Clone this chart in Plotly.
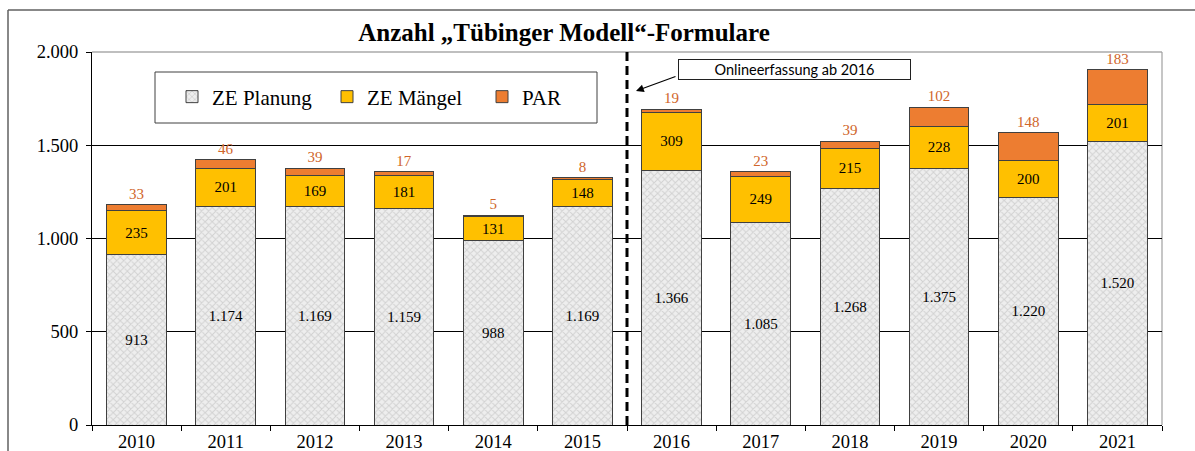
import plotly.graph_objects as go

years = ["2010", "2011", "2012", "2013", "2014", "2015", "2016", "2017", "2018", "2019", "2020", "2021"]
ze_planung = [913, 1174, 1169, 1159, 988, 1169, 1366, 1085, 1268, 1375, 1220, 1520]
ze_maengel = [235, 201, 169, 181, 131, 148, 309, 249, 215, 228, 200, 201]
par = [33, 46, 39, 17, 5, 8, 19, 23, 39, 102, 148, 183]
y_ticks = [0, 500, 1000, 1500, 2000]

SERIF = "Liberation Serif, Times New Roman, serif"
W, H = 1195, 451
L, R, T, B = 92, 1162, 52, 425
pw, ph = R - L, B - T

def px(x):
    return (x - L) / pw

def py(y):
    return (B - y) / ph

fig = go.Figure()
fig.add_trace(go.Bar(
    x=years, y=ze_planung, name="ZE Planung",
    marker=dict(color="#e0e0e0", line=dict(color="#404040", width=1),
                pattern=dict(shape="x", fgcolor="#b4b4b4", bgcolor="#eeeeee", size=5, solidity=0.35)),
    texttemplate="%{y:,d}", textposition="inside", insidetextanchor="middle",
    textfont=dict(family=SERIF, size=15, color="black"), textangle=0,
))
fig.add_trace(go.Bar(
    x=years, y=ze_maengel, name="ZE Mängel",
    marker=dict(color="#FFC000", line=dict(color="#404040", width=1)),
    texttemplate="%{y:,d}", textposition="inside", insidetextanchor="middle",
    textfont=dict(family=SERIF, size=15, color="black"), textangle=0,
))
fig.add_trace(go.Bar(
    x=years, y=par, name="PAR",
    marker=dict(color="#ED7D31", line=dict(color="#404040", width=1)),
    texttemplate="%{y:,d}", textposition="outside",
    textfont=dict(family=SERIF, size=15, color="#D0652A"), textangle=0,
    cliponaxis=False,
))

shapes = [
    # outer frame
    dict(type="line", xref="paper", yref="paper", x0=px(8), x1=px(1300), y0=py(10), y1=py(10),
         line=dict(color="#606060", width=1.5)),
    dict(type="line", xref="paper", yref="paper", x0=px(8), x1=px(8), y0=py(10), y1=py(600),
         line=dict(color="#606060", width=1.5)),
    # plot area top / right border
    dict(type="line", xref="paper", yref="paper", x0=0, x1=1, y0=1, y1=1,
         line=dict(color="#808080", width=1.2), layer="below"),
    dict(type="line", xref="paper", yref="paper", x0=1, x1=1, y0=0, y1=1,
         line=dict(color="#a0a0a0", width=1.2), layer="below"),
    # dashed separator
    dict(type="line", xref="x", yref="paper", x0=5.5, x1=5.5, y0=0, y1=1.0,
         line=dict(color="black", width=3, dash="9px,5px")),
    # legend box
    dict(type="rect", xref="paper", yref="paper", x0=px(155), x1=px(597), y0=py(72), y1=py(123),
         line=dict(color="#404040", width=1), fillcolor="white", layer="below"),
]

annotations = [
    dict(xref="paper", yref="paper", x=px(794.5), y=py(69), xanchor="center", yanchor="middle",
         text="Onlineerfassung ab 2016",
         showarrow=False, font=dict(family="Lato, Open Sans, sans-serif", size=14.5, color="black"),
         bordercolor="#202020", borderwidth=1, bgcolor="white", width=229, height=17, borderpad=1),
    dict(xref="paper", yref="paper", x=px(636), y=py(91), text="", showarrow=True,
         ax=41, ay=-15, arrowhead=2, arrowsize=1.3, arrowwidth=1.2, arrowcolor="black"),
]

fig.update_layout(
    width=W, height=H,
    margin=dict(l=L, r=W - R, t=T, b=H - B, pad=0, autoexpand=False),
    paper_bgcolor="white", plot_bgcolor="white",
    barmode="stack", bargap=0.33,
    separators=",.",
    title=dict(text="<b>Anzahl „Tübinger Modell“-Formulare</b>", x=px(564), xref="paper", xanchor="center",
               y=1 - 32 / H, yanchor="middle", font=dict(family=SERIF, size=25, color="black")),
    font=dict(family=SERIF, size=18.5, color="black"),
    xaxis=dict(type="category", tickson="boundaries", ticks="outside", ticklen=5, tickcolor="black",
               showline=True, linecolor="black", linewidth=1, showgrid=False, automargin=False,
               tickfont=dict(family=SERIF, size=18.5)),
    yaxis=dict(range=[0, 2000], tickvals=y_ticks, tickformat=",d", ticks="outside", ticklen=5,
               tickcolor="black", showline=True, linecolor="black", linewidth=1,
               showgrid=True, gridcolor="black", gridwidth=1, zeroline=False, automargin=False,
               ticklabelstandoff=4,
               tickfont=dict(family=SERIF, size=18.5)),
    legend=dict(orientation="h", x=px(172), y=py(97), xanchor="left", yanchor="middle",
                bgcolor="rgba(0,0,0,0)", borderwidth=0, entrywidth=110, entrywidthmode="pixels",
                font=dict(family=SERIF, size=21), traceorder="normal"),
    shapes=shapes, annotations=annotations,
)

fig.write_html("out.html", config={"displayModeBar": False},
               post_script="document.body.style.margin='0';document.body.style.overflow='hidden';")
